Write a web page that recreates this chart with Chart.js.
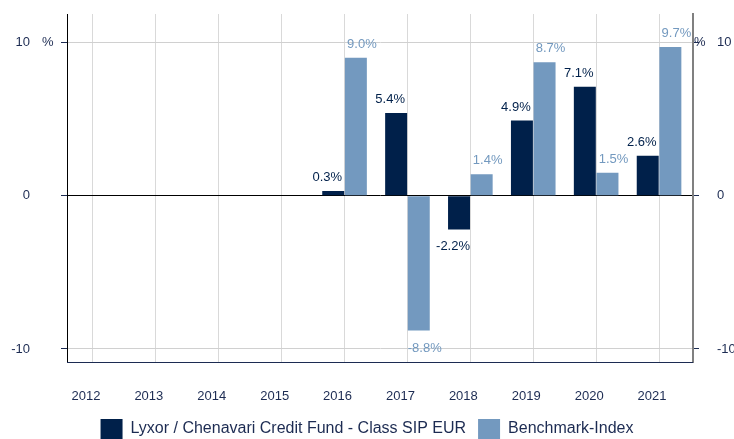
<!DOCTYPE html>
<html>
<head>
    <title>Lyxor / Chenavari Credit Fund - annual performance</title>
    <script src="https://cdn.jsdelivr.net/npm/chart.js"></script>
    <style>
        body {
            margin: 0;
            background: #fff;
        }
        canvas {
            display: block;
        }
    </style>
</head>
<body>
    <canvas id="perfChart" width="734" height="439"></canvas>

    <script>
        const years = ['2012', '2013', '2014', '2015', '2016', '2017', '2018', '2019', '2020', '2021'];
        const fundValues = [null, null, null, null, 0.3, 5.4, -2.2, 4.9, 7.1, 2.6];
        const benchmarkValues = [null, null, null, null, 9.0, -8.8, 1.4, 8.7, 1.5, 9.7];
        const yTickValues = [-10, 0, 10];

        const navy = '#00204a';
        const lightBlue = '#7399bf';
        const textColor = '#1c2b52';
        const fontFamily = 'Arial, "Liberation Sans", sans-serif';

        // value labels next to the end of every bar
        const valueLabels = {
            id: 'valueLabels',
            afterDatasetsDraw(chart) {
                const ctx = chart.ctx;
                ctx.save();
                ctx.font = '13px ' + fontFamily;
                ctx.textAlign = 'center';
                chart.data.datasets.forEach((ds, i) => {
                    const meta = chart.getDatasetMeta(i);
                    const shift = i === 0 ? -6 : 6;
                    ctx.fillStyle = i === 0 ? navy : lightBlue;
                    meta.data.forEach((bar, j) => {
                        const v = ds.data[j];
                        if (v === null) return;
                        const label = v.toFixed(1) + '%';
                        if (v >= 0) {
                            ctx.textBaseline = 'bottom';
                            ctx.fillText(label, bar.x + shift, bar.y - 7);
                        } else {
                            ctx.textBaseline = 'top';
                            ctx.fillText(label, bar.x + shift, bar.y + 11);
                        }
                    });
                });
                ctx.restore();
            }
        };

        // "%" unit next to the top tick on both sides, and the bottom axis line
        const axisExtras = {
            id: 'axisExtras',
            afterDraw(chart) {
                const ctx = chart.ctx;
                const area = chart.chartArea;
                const y = chart.scales.y.getPixelForValue(10);
                ctx.save();
                ctx.font = '13px ' + fontFamily;
                ctx.fillStyle = textColor;
                ctx.textBaseline = 'middle';
                ctx.textAlign = 'left';
                ctx.fillText('%', 42, y);
                ctx.fillText('%', area.right + 1, y);
                ctx.strokeStyle = textColor;
                ctx.lineWidth = 1;
                ctx.beginPath();
                ctx.moveTo(area.left, area.bottom + 0.5);
                ctx.lineTo(area.right, area.bottom + 0.5);
                ctx.stroke();
                ctx.restore();
            }
        };

        // legend sits tight against the bottom edge: drop most of its lower padding
        const tightLegend = {
            id: 'tightLegend',
            beforeLayout(chart) {
                const legend = chart.legend;
                if (!legend || legend._tightFit) return;
                const fit = legend.fit;
                legend.fit = function () {
                    fit.call(this);
                    this.height -= 10;
                };
                legend._tightFit = true;
            }
        };

        // the category band sits a few pixels left of the plot frame
        const shiftCategories = {
            id: 'shiftCategories',
            afterLayout(chart) {
                const x = chart.scales.x;
                x.left -= 5.5;
                x.right -= 2.5;
                x.width = x.right - x.left;
                x.configure();
            }
        };

        // y axes: fixed width, and no extra vertical padding from the tick padding
        function fitY(width) {
            return scale => {
                scale.width = width;
                scale.paddingTop = 0;
                scale.paddingBottom = 0;
            };
        }

        const ctx = document.getElementById('perfChart').getContext('2d');

        new Chart(ctx, {
            type: 'bar',
            data: {
                labels: years,
                datasets: [{
                    label: 'Lyxor / Chenavari Credit Fund - Class SIP EUR',
                    data: fundValues,
                    backgroundColor: navy,
                    yAxisID: 'y'
                }, {
                    label: 'Benchmark-Index',
                    data: benchmarkValues,
                    backgroundColor: lightBlue,
                    yAxisID: 'y'
                }]
            },
            options: {
                responsive: false,
                animation: false,
                categoryPercentage: 0.72,
                barPercentage: 0.97,
                layout: {
                    padding: { top: 14, left: 0, right: 0, bottom: 0 }
                },
                plugins: {
                    tooltip: { enabled: false },
                    legend: {
                        position: 'bottom',
                        labels: {
                            color: textColor,
                            boxWidth: 22,
                            boxHeight: 20,
                            padding: 12,
                            font: { family: fontFamily, size: 16 }
                        }
                    }
                },
                scales: {
                    x: {
                        grid: {
                            offset: false,
                            color: '#d9d9d9',
                            drawTicks: false
                        },
                        border: { display: false },
                        ticks: {
                            color: textColor,
                            padding: 27,
                            labelOffset: -7,
                            maxRotation: 0,
                            font: { family: fontFamily, size: 13 }
                        },
                        afterFit(scale) { scale.height = 45; }
                    },
                    y: {
                        position: 'left',
                        min: -10.85,
                        max: 11.85,
                        afterBuildTicks(scale) {
                            scale.ticks = yTickValues.map(v => ({ value: v }));
                        },
                        afterFit: fitY(67),
                        grid: {
                            color: c => c.tick && c.tick.value === 0 ? '#000' : '#d0d0d0',
                            tickColor: textColor,
                            tickLength: 6
                        },
                        border: { color: '#000', width: 1 },
                        ticks: {
                            color: textColor,
                            padding: 31,
                            font: { family: fontFamily, size: 13 }
                        }
                    },
                    y2: {
                        position: 'right',
                        min: -10.85,
                        max: 11.85,
                        afterBuildTicks(scale) {
                            scale.ticks = yTickValues.map(v => ({ value: v }));
                        },
                        afterFit: fitY(41),
                        grid: {
                            drawOnChartArea: false,
                            tickColor: textColor,
                            tickLength: 6
                        },
                        border: { color: '#808080', width: 2 },
                        ticks: {
                            color: textColor,
                            padding: 18,
                            font: { family: fontFamily, size: 13 }
                        }
                    }
                }
            },
            plugins: [tightLegend, shiftCategories, valueLabels, axisExtras]
        });
    </script>
</body>
</html>
